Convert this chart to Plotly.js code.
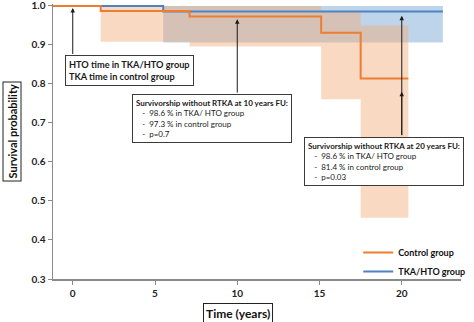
<!DOCTYPE html>
<html>
<head>
<meta charset="utf-8">
<script src="https://cdn.plot.ly/plotly-3.0.1.min.js"></script>
<style>html,body{margin:0;padding:0;background:#fff;}#chart{width:474px;height:322px;}</style>
</head>
<body>
<div id="chart"></div>
<script>
// ---- data ----
const seriesNames = ["Control group", "TKA/HTO group"];

// Kaplan-Meier step curves (time in years, survival probability)
const controlTime = [-1.2, 1.7, 7.1, 15.1, 17.5, 20.4];
const controlSurv = [1.0, 0.987, 0.973, 0.931, 0.814, 0.814];
const tkaTime = [-1.2, 5.5, 22.5];
const tkaSurv = [1.0, 0.986, 0.986];

// confidence bands
const controlBandTime = [1.7, 7.1, 15.1, 17.5, 20.4];
const controlBandUpper = [1.0, 1.0, 0.985, 0.95, 0.95];
const controlBandLower = [0.908, 0.896, 0.761, 0.457, 0.457];
const tkaBandTime = [5.5, 22.5];
const tkaBandUpper = [1.0, 1.0];
const tkaBandLower = [0.906, 0.906];

const xTicks = [0, 5, 10, 15, 20];
const yTicks = [0.3, 0.4, 0.5, 0.6, 0.7, 0.8, 0.9, 1.0];

const xTitle = "Time (years)";
const yTitle = "Survival probability";
const note0 = ["HTO time in TKA/HTO group", "TKA time in control group"];
const note10 = ["Survivorship without RTKA at 10 years FU:", "98.6 % in TKA/ HTO group", "97.3 % in control group", "p=0.7"];
const note20 = ["Survivorship without RTKA at 20 years FU:", "98.6 % in TKA/ HTO group", "81.4 % in control group", "p=0.03"];

// ---- styling ----
const ORANGE = "#ED7D31";
const BLUE = "#4D84C0";
const ORANGE_FILL = "rgba(244,170,120,0.45)";
const BLUE_FILL = "rgba(110,160,210,0.45)";
const FONT = "Lato, 'Open Sans', sans-serif";
const AXIS = "#8a8a8a";

const traces = [
  {x: tkaBandTime, y: tkaBandLower, mode: "lines", line: {width: 0, shape: "hv"}, showlegend: false, hoverinfo: "skip"},
  {x: tkaBandTime, y: tkaBandUpper, mode: "lines", line: {width: 0, shape: "hv"}, fill: "tonexty", fillcolor: BLUE_FILL, showlegend: false, hoverinfo: "skip"},
  {x: controlBandTime, y: controlBandLower, mode: "lines", line: {width: 0, shape: "hv"}, showlegend: false, hoverinfo: "skip"},
  {x: controlBandTime, y: controlBandUpper, mode: "lines", line: {width: 0, shape: "hv"}, fill: "tonexty", fillcolor: ORANGE_FILL, showlegend: false, hoverinfo: "skip"},
  {x: tkaTime, y: tkaSurv, mode: "lines", name: seriesNames[1], line: {color: BLUE, width: 2, shape: "hv"}, legendrank: 2},
  {x: controlTime, y: controlSurv, mode: "lines", name: seriesNames[0], line: {color: ORANGE, width: 2, shape: "hv"}, legendrank: 1}
];

const IND = "\u00a0\u00a0\u00a0-\u00a0\u00a0";
function noteText(lines) {
  return "<b>" + lines[0] + "</b><br>" + lines.slice(1).map(l => IND + l).join("<br>");
}
const boxStyle = {showarrow: false, xref: "x", yref: "y", xanchor: "left", yanchor: "top", align: "left",
  bordercolor: "#3a3a3a", borderwidth: 1, borderpad: 3, bgcolor: "#ffffff",
  font: {family: FONT, size: 8, color: "#1a1a1a"}};
function arrow(x, y, ay) {
  return {x: x, y: y, ax: x, ay: ay, xref: "x", yref: "y", axref: "x", ayref: "y", text: "", showarrow: true,
    arrowhead: 2, arrowsize: 0.9, arrowwidth: 1, arrowcolor: "#1a1a1a", standoff: 0, startstandoff: 0};
}

const PLOT_TOP = 4, PLOT_BOTTOM = 279, PLOT_H = PLOT_BOTTOM - PLOT_TOP;

const annotations = [
  arrow(0, 0.995, 0.873),
  arrow(10, 0.966, 0.774),
  arrow(20, 0.975, 0.665),
  arrow(20, 0.78, 0.665),
  Object.assign({}, boxStyle, {x: -0.45, y: 0.873, text: note0.map(t => "<b>" + t + "</b>").join("<br>"),
    font: {family: FONT, size: 9.2, color: "#1a1a1a"}}),
  Object.assign({}, boxStyle, {x: 3.6, y: 0.774, text: noteText(note10)}),
  Object.assign({}, boxStyle, {x: 14.05, y: 0.665, text: noteText(note20)}),
  {text: "<b>" + xTitle + "</b>", xref: "paper", yref: "paper", x: (240 - 53) / 413, y: (PLOT_BOTTOM - 313) / PLOT_H,
    xanchor: "center", yanchor: "middle", showarrow: false, bordercolor: "#222", borderwidth: 1, borderpad: 2,
    bgcolor: "#fff", font: {family: FONT, size: 12, color: "#111"}},
  {text: "<b>" + yTitle + "</b>", xref: "paper", yref: "paper", x: (11 - 53) / 413, y: (PLOT_BOTTOM - 132) / PLOT_H,
    xanchor: "center", yanchor: "middle", textangle: -90, showarrow: false, bordercolor: "#222", borderwidth: 1, borderpad: 2,
    bgcolor: "#fff", font: {family: FONT, size: 11, color: "#111"}}
];

const layout = {
  width: 474, height: 322,
  margin: {l: 53, r: 8, t: PLOT_TOP, b: 322 - PLOT_BOTTOM},
  paper_bgcolor: "#fff", plot_bgcolor: "#fff",
  font: {family: FONT, color: "#222"},
  xaxis: {range: [-1.2, 23.6], tickvals: xTicks, ticktext: xTicks.map(String), showgrid: false, zeroline: false,
    showline: true, linecolor: AXIS, linewidth: 1.5, ticks: "outside", ticklen: 4, tickcolor: AXIS, tickwidth: 1,
    tickfont: {family: FONT, size: 10, weight: 700, color: "#222"}},
  yaxis: {range: [0.3, 1.005], tickvals: yTicks, ticktext: yTicks.map(v => v.toFixed(1)), showgrid: false, zeroline: false,
    showline: true, linecolor: AXIS, linewidth: 1.5, ticks: "outside", ticklen: 4, tickcolor: AXIS, tickwidth: 1,
    ticklabeloverflow: "allow",
    tickfont: {family: FONT, size: 10, weight: 700, color: "#222"}},
  showlegend: true,
  legend: {x: (362 - 53) / 413, y: (PLOT_BOTTOM - 238) / PLOT_H, xanchor: "left", yanchor: "top", bgcolor: "rgba(0,0,0,0)",
    traceorder: "normal", font: {family: FONT, size: 9, weight: 700, color: "#111"}, itemwidth: 30},
  annotations: annotations
};

Plotly.newPlot("chart", traces, layout, {displayModeBar: false, staticPlot: true});
</script>
</body>
</html>
